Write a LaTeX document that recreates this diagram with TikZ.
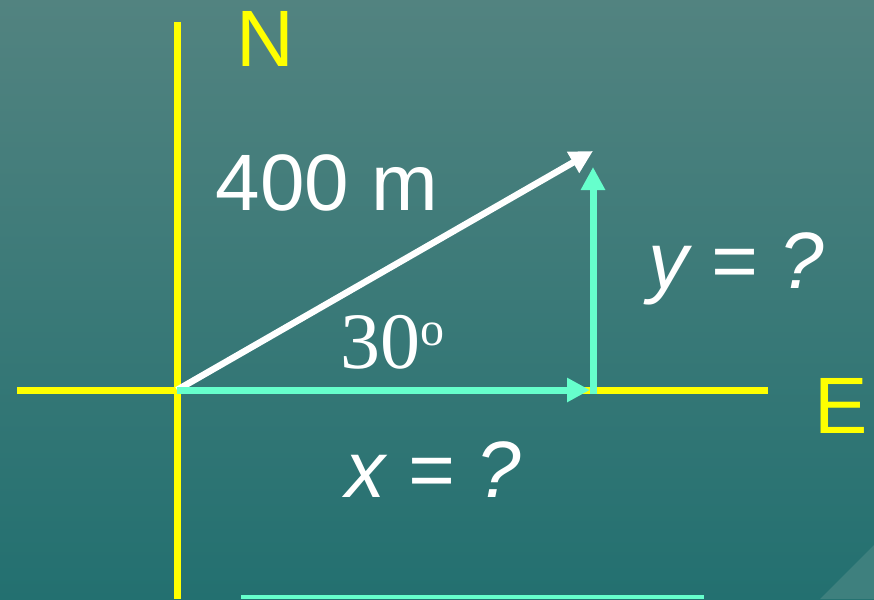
\documentclass[tikz,border=0pt]{standalone}
\usepackage{fontspec}
\setmainfont{Liberation Sans}
\newfontfamily\timesfont{Liberation Serif}
\usetikzlibrary{arrows.meta}
\definecolor{myyellow}{RGB}{255,255,0}
\definecolor{mycyan}{RGB}{102,255,204}
\definecolor{bgtop}{RGB}{82,131,128}
\definecolor{bgbot}{RGB}{35,112,112}
\definecolor{bgcorner}{RGB}{62,128,126}
\tikzset{
  axis/.style={line width=7pt, color=myyellow},
  whitevec/.style={-{Triangle[length=23pt,width=23pt]}, line width=6.5pt, color=white},
  cyanvec/.style={-{Triangle[length=23pt,width=23pt]}, line width=7pt, color=mycyan},
  lbl/.style={anchor=base, inner sep=0pt, font=\fontsize{80}{80}\selectfont},
}

\begin{document}
\begin{tikzpicture}[x=1pt, y=-1pt]
  % background
  \useasboundingbox (0,0) rectangle (874,599);
  \shade[top color=bgtop, bottom color=bgbot] (0,0) rectangle (874,599);
  \fill[bgcorner] (874,545) -- (820,599) -- (874,599) -- cycle;

  % axes
  \coordinate (nTop) at (177,22);
  \coordinate (sEnd) at (177,599);
  \coordinate (wEnd) at (17,390);
  \coordinate (eEnd) at (768,390);
  \draw[axis] (nTop) -- (sEnd);
  \draw[axis] (wEnd) -- (eEnd);
  \node[lbl, text=myyellow] (north) at (265,67) {N};
  \node[lbl, text=myyellow] (east) at (841,433) {E};

  % vectors
  \coordinate (O) at (177,390);
  \coordinate (A) at (593,151);
  \coordinate (C) at (593,390);
  \coordinate (Ctop) at (593,167);
  \draw[whitevec] (O) -- (A);
  \draw[cyanvec] (O) -- (590,390);
  \draw[cyanvec] ([yshift=-3.5pt]C) -- (Ctop);

  % labels
  \node[lbl, text=white] (dist) at (327,210) {400 m};
  \node[lbl, text=white] (ylbl) at (736,288) {\itshape y = ?};
  \node[lbl, text=white] (xlbl) at (433,497) {\itshape x = ?};
  \node[anchor=base, inner sep=0pt, text=white, font=\timesfont\fontsize{80}{80}\selectfont] (ang) at (392,368)
    {30\raisebox{23pt}{\fontsize{48}{48}\selectfont o}};

  % bottom bar
  \fill[mycyan] (241,595) rectangle (704,599);
\end{tikzpicture}
\end{document}
